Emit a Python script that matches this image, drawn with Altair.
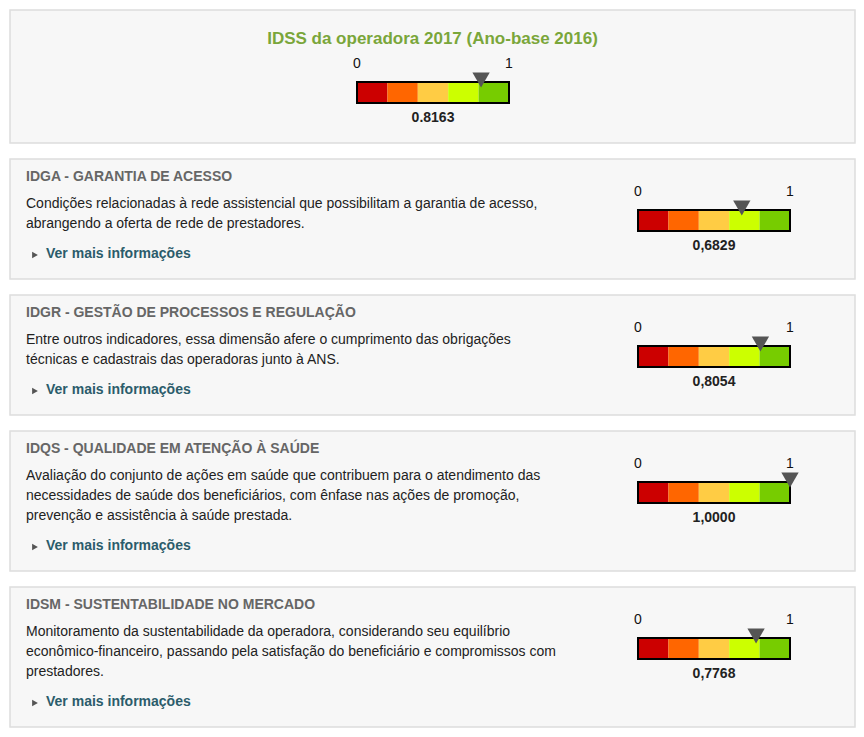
import altair as alt
import pandas as pd

# gauge values (label as shown)
scores = [0.8163, 0.6829, 0.8054, 1.0, 0.7768]
score_labels = ["0.8163", "0,6829", "0,8054", "1,0000", "0,7768"]
band_colors = ["#cc0000", "#ff6600", "#ffcc44", "#ccff00", "#77cc00"]
band_edges = [0, 0.2, 0.4, 0.6, 0.8, 1.0]

titles = [
    "IDGA - GARANTIA DE ACESSO",
    "IDGR - GESTÃO DE PROCESSOS E REGULAÇÃO",
    "IDQS - QUALIDADE EM ATENÇÃO À SAÚDE",
    "IDSM - SUSTENTABILIDADE NO MERCADO",
]
descriptions = [
    ["Condições relacionadas à rede assistencial que possibilitam a garantia de acesso,",
     "abrangendo a oferta de rede de prestadores."],
    ["Entre outros indicadores, essa dimensão afere o cumprimento das obrigações",
     "técnicas e cadastrais das operadoras junto à ANS."],
    ["Avaliação do conjunto de ações em saúde que contribuem para o atendimento das",
     "necessidades de saúde dos beneficiários, com ênfase nas ações de promoção,",
     "prevenção e assistência à saúde prestada."],
    ["Monitoramento da sustentabilidade da operadora, considerando seu equilíbrio",
     "econômico-financeiro, passando pela satisfação do beneficiário e compromissos com",
     "prestadores."],
]

FONT = "Liberation Sans"
W = 845
UNIT = 152  # px per gauge unit


def gauge(value, label, bar_top, domain):
    x_scale = alt.Scale(domain=domain, nice=False, zero=False)
    bands = pd.DataFrame({
        "a": band_edges[:-1], "b": band_edges[1:], "c": band_colors,
    })
    band = alt.Chart(bands).mark_rect().encode(
        x=alt.X("a:Q", scale=x_scale, axis=None), x2="b:Q",
        y=alt.value(bar_top), y2=alt.value(bar_top + 21),
        color=alt.Color("c:N", scale=None),
    )
    frame = alt.Chart(pd.DataFrame({"a": [0], "b": [1]})).mark_rect(
        fill=None, stroke="black", strokeWidth=2
    ).encode(x=alt.X("a:Q", scale=x_scale, axis=None), x2="b:Q",
             y=alt.value(bar_top), y2=alt.value(bar_top + 21))
    marker = alt.Chart(pd.DataFrame({"v": [value]})).mark_point(
        shape="triangle-down", filled=True, color="#555555", size=300, opacity=1
    ).encode(x=alt.X("v:Q", scale=x_scale, axis=None), y=alt.value(bar_top - 2))
    ends = alt.Chart(pd.DataFrame({"v": [0, 1], "t": ["0", "1"]})).mark_text(
        font=FONT, fontSize=14, color="#111", baseline="middle"
    ).encode(x=alt.X("v:Q", scale=x_scale, axis=None), y=alt.value(bar_top - 18), text="t:N")
    val = alt.Chart(pd.DataFrame({"v": [0.5], "t": [label]})).mark_text(
        font=FONT, fontSize=14, fontWeight="bold", color="#222", baseline="middle"
    ).encode(x=alt.X("v:Q", scale=x_scale, axis=None), y=alt.value(bar_top + 36), text="t:N")
    return [band, frame, marker, ends, val]


# top card
top_off = 347
top_domain = [-top_off / UNIT, (W - top_off) / UNIT]
head = alt.Chart(pd.DataFrame({"t": ["IDSS da operadora 2017 (Ano-base 2016)"]})).mark_text(
    font=FONT, fontSize=17, fontWeight="bold", color="#7aa63a", baseline="middle"
).encode(x=alt.value(W / 2), y=alt.value(29), text="t:N")
top = alt.layer(head, *gauge(scores[0], score_labels[0], 72, top_domain)).properties(
    width=W, height=133)

cards = [top]
heights = [120, 120, 140, 140]
card_off = 628
card_domain = [-card_off / UNIT, (W - card_off) / UNIT]
for i, title in enumerate(titles):
    lines = descriptions[i]
    t = alt.Chart(pd.DataFrame({"t": [title]})).mark_text(
        font=FONT, fontSize=14, fontWeight="bold", color="#666", align="left", baseline="middle"
    ).encode(x=alt.value(16), y=alt.value(18), text="t:N")
    d = alt.Chart(pd.DataFrame({"t": lines, "y": [45 + 20 * k for k in range(len(lines))]})).mark_text(
        font=FONT, fontSize=14, color="#222", align="left", baseline="middle"
    ).encode(x=alt.value(16), y=alt.Y("y:Q", scale=None), text="t:N")
    ver_y = 45 + 20 * len(lines) + 10
    v = alt.Chart(pd.DataFrame({"t": ["Ver mais informações"]})).mark_text(
        font=FONT, fontSize=14, fontWeight="bold", color="#2b5c6b", align="left", baseline="middle"
    ).encode(x=alt.value(36), y=alt.value(ver_y), text="t:N")
    arrow = alt.Chart(pd.DataFrame({"t": [1]})).mark_point(
        shape="triangle-right", filled=True, color="#555", size=45, opacity=1
    ).encode(x=alt.value(25), y=alt.value(ver_y + 1))
    layer = alt.layer(t, d, v, arrow,
                      *gauge(scores[i + 1], score_labels[i + 1], 51, card_domain)
                      ).properties(width=W, height=heights[i])
    cards.append(layer)

chart = alt.vconcat(*cards, spacing=14).properties(
    padding={"top": 1, "left": 1, "right": 0, "bottom": 0}
).configure_view(fill="#f7f7f7", stroke="#dddddd", strokeWidth=1.5)

chart.save("out.html", embed_options={"renderer": "svg", "actions": False})
